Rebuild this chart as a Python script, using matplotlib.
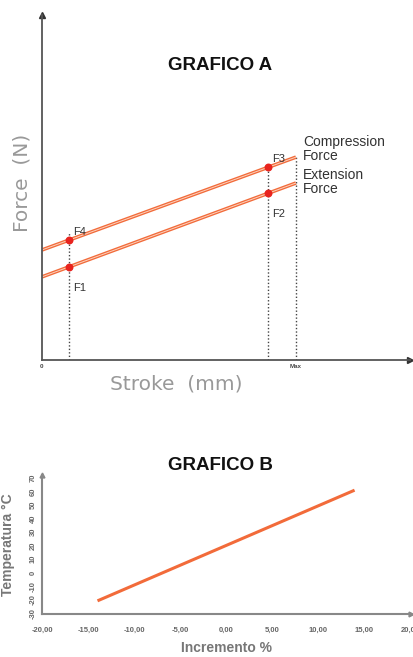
import matplotlib
matplotlib.use("Agg")
import matplotlib.pyplot as plt

plt.rcParams["font.family"] = ["Liberation Sans", "DejaVu Sans"]

# --- Grafico A (schematic force / stroke) ---
stroke_ends = [0, 69]
compression = [31.9, 58.8]
extension = [24.1, 51.3]
point_stroke = [7.3, 61.4, 61.4, 7.3]
point_force = [27.0, 48.3, 55.8, 34.7]
point_names = ["F1", "F2", "F3", "F4"]
guide_x = [7.3, 61.4, 69]
guide_top = [36.8, 57.1, 58.8]

# --- Grafico B ---
increment = [-13.9, 13.8]
temperature = [-20.5, 60.6]
x_ticks_b = [-20, -15, -10, -5, 0, 5, 10, 15, 20]
x_labels_b = ["-20,00", "-15,00", "-10,00", "-5,00", "0,00",
              "5,00", "10,00", "15,00", "20,00"]
y_ticks_b = [70, 60, 50, 40, 30, 20, 10, 0, -10, -20, -30]

W, H = 413, 657
fig = plt.figure(figsize=(W / 100, H / 100), dpi=100)


def box(l, t, r, b):
    return [l / W, 1 - b / H, (r - l) / W, (b - t) / H]


orange = "#f26b3a"
axis_col = "#555555"

# ---------------- chart A ----------------
ax = fig.add_axes(box(42, 15, 410, 360))
ax.set_xlim(0, 100)
ax.set_ylim(0, 100)
for s in ["top", "right"]:
    ax.spines[s].set_visible(False)
for s in ["left", "bottom"]:
    ax.spines[s].set_color(axis_col)
    ax.spines[s].set_linewidth(1.3)
ax.plot(1, 0, ">", color="#333333", ms=4, transform=ax.transAxes, clip_on=False)
ax.plot(0, 1, "^", color="#333333", ms=4, transform=ax.transAxes, clip_on=False)

for gx, gt in zip(guide_x, guide_top):
    ax.plot([gx, gx], [0, gt], color="#444444", lw=1, ls=(0, (1, 1.5)))

for ys in (compression, extension):
    ax.plot(stroke_ends, ys, color=orange, lw=2.6, solid_capstyle="butt")
    ax.plot(stroke_ends, ys, color="#fcd3c0", lw=0.7, solid_capstyle="butt")

ax.scatter(point_stroke, point_force, s=22, color="#e8231e", zorder=5)
offsets = {"F1": (1.2, -6), "F2": (1.2, -6), "F3": (1.2, 2.5), "F4": (1.2, 2.5)}
for n, sx, fy in zip(point_names, point_stroke, point_force):
    dx, dy = offsets[n]
    ax.text(sx + dx, fy + dy, n, fontsize=8, color="#333333", va="center")

ax.text(71, 61.2, "Compression\nForce", fontsize=10, color="#333333",
        va="center", linespacing=0.95)
ax.text(71, 51.6, "Extension\nForce", fontsize=10, color="#333333",
        va="center", linespacing=0.95)

ax.set_xticks([0, 69])
ax.set_xticklabels(["0", "Max"], fontsize=4.5, fontweight="bold", color="#444444")
ax.tick_params(axis="x", length=0, pad=3)
ax.set_yticks([])

fig.text(220 / W, 1 - 66 / H, "GRAFICO A", fontsize=13.5, fontweight="bold",
         ha="center", va="center", color="#111111")
fig.text(22 / W, 1 - 183 / H, "Force  (N)", fontsize=14.5, rotation=90,
         ha="center", va="center", color="#999999", family="DejaVu Sans")
fig.text(176 / W, 1 - 384 / H, "Stroke  (mm)", fontsize=14.5,
         ha="center", va="center", color="#999999", family="DejaVu Sans")

# ---------------- chart B ----------------
bx = fig.add_axes(box(42, 475, 411, 614))
bx.set_xlim(-20.1, 20.1)
bx.set_ylim(-30.7, 72.3)
for s in ["top", "right"]:
    bx.spines[s].set_visible(False)
for s in ["left", "bottom"]:
    bx.spines[s].set_color("#888888")
    bx.spines[s].set_linewidth(1.5)
bx.plot(1, 0, ">", color="#888888", ms=3.5, transform=bx.transAxes, clip_on=False)
bx.plot(0, 1, "^", color="#888888", ms=3.5, transform=bx.transAxes, clip_on=False)

bx.plot(increment, temperature, color=orange, lw=2.2)

bx.set_xticks(x_ticks_b)
bx.set_xticklabels(x_labels_b, fontsize=5.5, fontweight="bold", color="#666666")
bx.set_yticks(y_ticks_b)
bx.set_yticklabels([str(v) for v in y_ticks_b], fontsize=5.5, fontweight="bold",
                   color="#666666", rotation=90, va="center")
bx.tick_params(length=0)
bx.tick_params(axis="x", pad=9)
bx.tick_params(axis="y", pad=4)

fig.text(220 / W, 1 - 466 / H, "GRAFICO B", fontsize=13.5, fontweight="bold",
         ha="center", va="center", color="#111111")
fig.text(8 / W, 1 - 545 / H, "Temperatura °C", fontsize=10, fontweight="bold",
         rotation=90, ha="center", va="center", color="#777777")
fig.text(227 / W, 1 - 648 / H, "Incremento %", fontsize=10, fontweight="bold",
         ha="center", va="center", color="#777777")

fig.savefig("out.png", dpi=100)
